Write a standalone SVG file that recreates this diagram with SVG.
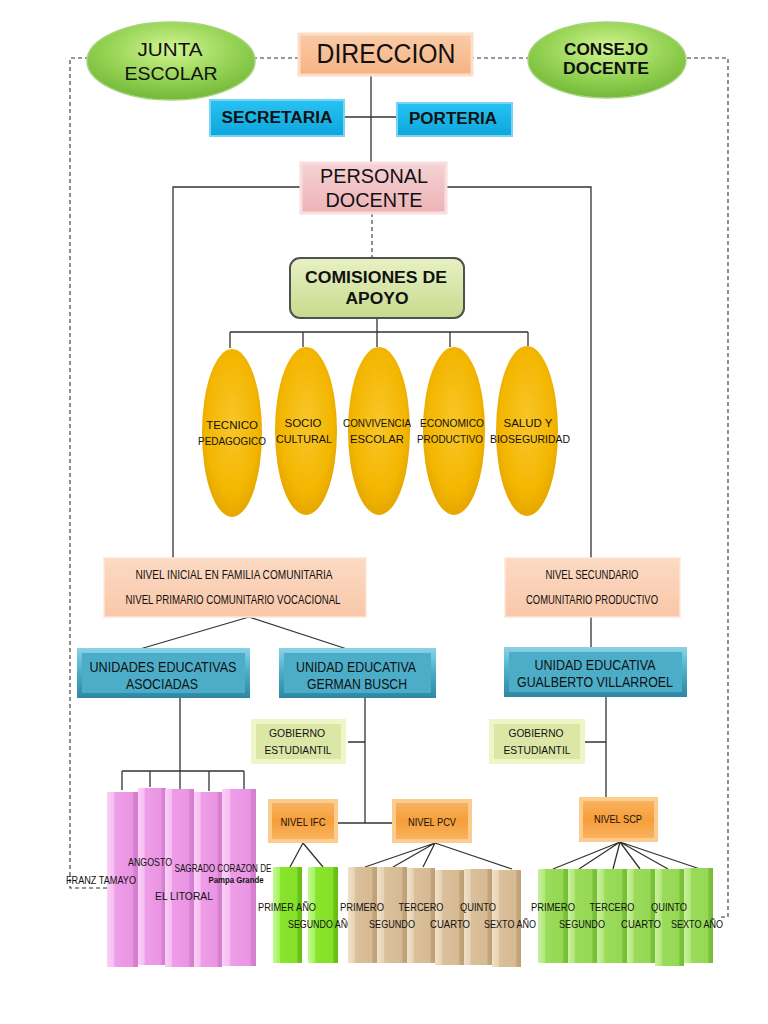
<svg xmlns="http://www.w3.org/2000/svg" width="768" height="1024" viewBox="0 0 768 1024">
<defs>
<style>
text{font-family:"Liberation Sans",Arial,sans-serif;fill:#111;text-anchor:middle}
.b{font-weight:bold}
.ln{stroke:#333;stroke-width:1.3;fill:none}
.dash{stroke:#333;stroke-width:1.1;fill:none;stroke-dasharray:4 3}
.nar{font-size:13px}
.col{font-size:11.5px}
.el{font-size:11.5px}
</style>
<radialGradient id="gGreenE" cx="0.5" cy="0.35" r="0.65"><stop offset="0" stop-color="#D2F590"/><stop offset="0.6" stop-color="#94D253"/><stop offset="1" stop-color="#74B83A"/></radialGradient>
<radialGradient id="gGold" cx="0.5" cy="0.45" r="0.6"><stop offset="0" stop-color="#F9C62A"/><stop offset="0.7" stop-color="#F3B600"/><stop offset="1" stop-color="#E0A000"/></radialGradient>
<linearGradient id="gDir" x1="0" y1="0" x2="0" y2="1"><stop offset="0" stop-color="#FACBA6"/><stop offset="1" stop-color="#F6B283"/></linearGradient>
<linearGradient id="gPers" x1="0" y1="0" x2="0" y2="1"><stop offset="0" stop-color="#F6D2D4"/><stop offset="1" stop-color="#EDB3B7"/></linearGradient>
<linearGradient id="gCom" x1="0" y1="0" x2="0" y2="1"><stop offset="0" stop-color="#E8F1C4"/><stop offset="1" stop-color="#C7DA8C"/></linearGradient>
<linearGradient id="gCyan" x1="0" y1="0" x2="0" y2="1"><stop offset="0" stop-color="#25C3F3"/><stop offset="1" stop-color="#0EA6DC"/></linearGradient>
<linearGradient id="gPeach" x1="0" y1="0" x2="0" y2="1"><stop offset="0" stop-color="#FCDAC4"/><stop offset="1" stop-color="#F9C7A8"/></linearGradient>
<linearGradient id="gTealO" x1="0" y1="0" x2="0" y2="1"><stop offset="0" stop-color="#8AD3E6"/><stop offset="0.5" stop-color="#4AACC7"/><stop offset="1" stop-color="#2E87A2"/></linearGradient>
<linearGradient id="gOrange" x1="0" y1="0" x2="0" y2="1"><stop offset="0" stop-color="#F9B25E"/><stop offset="0.5" stop-color="#F79E3A"/><stop offset="1" stop-color="#F9B25E"/></linearGradient>
<linearGradient id="gPink" x1="0" y1="0" x2="1" y2="0"><stop offset="0" stop-color="#FAD0F6"/><stop offset="0.22" stop-color="#F7BDF2"/><stop offset="0.26" stop-color="#EE9DE7"/><stop offset="0.82" stop-color="#EA95E3"/><stop offset="0.86" stop-color="#D981D2"/><stop offset="1" stop-color="#D57CCE"/></linearGradient>
<linearGradient id="gTan" x1="0" y1="0" x2="1" y2="0"><stop offset="0" stop-color="#F0E1CA"/><stop offset="0.22" stop-color="#E7D3B5"/><stop offset="0.26" stop-color="#DAC09B"/><stop offset="0.82" stop-color="#D6BA93"/><stop offset="0.86" stop-color="#C4A47A"/><stop offset="1" stop-color="#BF9F74"/></linearGradient>
<linearGradient id="gLime" x1="0" y1="0" x2="1" y2="0"><stop offset="0" stop-color="#C2FA8C"/><stop offset="0.22" stop-color="#A8F266"/><stop offset="0.26" stop-color="#88E52C"/><stop offset="0.82" stop-color="#84E028"/><stop offset="0.86" stop-color="#6CC414"/><stop offset="1" stop-color="#66BC12"/></linearGradient>
<linearGradient id="gGrn" x1="0" y1="0" x2="1" y2="0"><stop offset="0" stop-color="#C9F19E"/><stop offset="0.22" stop-color="#B2E77C"/><stop offset="0.26" stop-color="#9ADC5A"/><stop offset="0.82" stop-color="#95D854"/><stop offset="0.86" stop-color="#7CC33C"/><stop offset="1" stop-color="#76BD36"/></linearGradient>
</defs>
<rect width="768" height="1024" fill="#fff"/>

<g id="connectors">
<path class="dash" d="M107,888 H70 V58 H728 V917 H721"/>
<path class="ln" d="M371,76 V163 M344,117 H396"/>
<path class="ln" d="M300,187 H173 V558 M446,187 H591 V558"/>
<path class="dash" d="M372,213 V257"/>
<path class="ln" d="M377,318 V332 M230,332 H528 M230,332 V348 M303,332 V347 M377,332 V347 M450,332 V347 M528,332 V346"/>
<path class="ln" d="M249,617 L140,649 M249,617 L347,649 M591,617 V647"/>
<path class="ln" d="M180,698 V771 M122,771 H244 M122,771 V790 M150,771 V787 M180,771 V789 M209,771 V791 M244,771 V789"/>
<path class="ln" d="M365,698 V823 M337,823 H392 M348,742 H365"/>
<path class="ln" d="M303,843 L290,867 M303,843 L323,867"/>
<path class="ln" d="M435,843 L365,867 M435,843 L393,867 M435,843 L423,867 M435,843 L512,869"/>
<path class="ln" d="M606,697 V797 M585,742 H606"/>
<path class="ln" d="M620,842 L553,869 M620,842 L579,869 M620,842 L613,869 M620,842 L640,869 M620,842 L668,869 M620,842 L700,869"/>
</g>

<g id="junta">
<ellipse cx="171" cy="61" rx="84" ry="39" fill="url(#gGreenE)" stroke="#A6D47C" stroke-width="1.5"/>
<text x="170" y="56" font-size="18" textLength="65" lengthAdjust="spacingAndGlyphs">JUNTA</text>
<text x="171" y="80" font-size="18" textLength="93" lengthAdjust="spacingAndGlyphs">ESCOLAR</text>
</g>
<g id="consejo">
<ellipse cx="607" cy="60" rx="79" ry="38" fill="url(#gGreenE)" stroke="#A6D47C" stroke-width="1.5"/>
<text x="606" y="55" font-size="17" class="b" textLength="84" lengthAdjust="spacingAndGlyphs">CONSEJO</text>
<text x="606" y="74" font-size="17" class="b" textLength="86" lengthAdjust="spacingAndGlyphs">DOCENTE</text>
</g>
<g id="direccion">
<rect x="299" y="34" width="173" height="41" fill="url(#gDir)" stroke="#FCDDC6" stroke-width="3"/>
<text x="386" y="63" font-size="27" textLength="139" lengthAdjust="spacingAndGlyphs">DIRECCION</text>
</g>
<g id="secretaria">
<rect x="210" y="100" width="134" height="36" fill="url(#gCyan)" stroke="#78D4F2" stroke-width="2"/>
<text x="277" y="123" font-size="16" class="b" textLength="111" lengthAdjust="spacingAndGlyphs">SECRETARIA</text>
</g>
<g id="porteria">
<rect x="397" y="103" width="115" height="33" fill="url(#gCyan)" stroke="#78D4F2" stroke-width="2"/>
<text x="453" y="124" font-size="16" class="b" textLength="88" lengthAdjust="spacingAndGlyphs">PORTERIA</text>
</g>
<g id="personal">
<rect x="301" y="163" width="145" height="50" fill="url(#gPers)" stroke="#F9DEDF" stroke-width="3"/>
<text x="374" y="183" font-size="20" textLength="108" lengthAdjust="spacingAndGlyphs">PERSONAL</text>
<text x="374" y="207" font-size="20" textLength="97" lengthAdjust="spacingAndGlyphs">DOCENTE</text>
</g>
<g id="comisiones">
<rect x="290" y="258" width="174" height="60" rx="10" fill="url(#gCom)" stroke="#505050" stroke-width="2"/>
<text x="376" y="283" font-size="16" class="b" textLength="142" lengthAdjust="spacingAndGlyphs">COMISIONES DE</text>
<text x="377" y="304" font-size="16" class="b" textLength="63" lengthAdjust="spacingAndGlyphs">APOYO</text>
</g>

<g id="comision-tecnico">
<ellipse cx="232" cy="433" rx="30" ry="84" fill="url(#gGold)"/>
<text x="232" y="429" class="el">TECNICO</text>
<text x="232" y="445" class="el" textLength="68" lengthAdjust="spacingAndGlyphs">PEDAGOGICO</text>
</g>
<g id="comision-socio">
<ellipse cx="306" cy="431" rx="31" ry="84" fill="url(#gGold)"/>
<text x="303" y="427" class="el">SOCIO</text>
<text x="304" y="443" class="el" textLength="56" lengthAdjust="spacingAndGlyphs">CULTURAL</text>
</g>
<g id="comision-convivencia">
<ellipse cx="379" cy="431" rx="31" ry="84" fill="url(#gGold)"/>
<text x="377" y="427" class="el" textLength="68" lengthAdjust="spacingAndGlyphs">CONVIVENCIA</text>
<text x="377" y="443" class="el" textLength="54" lengthAdjust="spacingAndGlyphs">ESCOLAR</text>
</g>
<g id="comision-economico">
<ellipse cx="454" cy="431" rx="31" ry="84" fill="url(#gGold)"/>
<text x="452" y="427" class="el" textLength="64" lengthAdjust="spacingAndGlyphs">ECONOMICO</text>
<text x="450" y="443" class="el" textLength="66" lengthAdjust="spacingAndGlyphs">PRODUCTIVO</text>
</g>
<g id="comision-salud">
<ellipse cx="527" cy="431" rx="31" ry="85" fill="url(#gGold)"/>
<text x="528" y="427" class="el">SALUD Y</text>
<text x="530" y="443" class="el" textLength="80" lengthAdjust="spacingAndGlyphs">BIOSEGURIDAD</text>
</g>

<g id="nivel-inicial">
<rect x="104" y="558" width="262" height="59" fill="url(#gPeach)" stroke="#FDE6D7" stroke-width="1.5"/>
<text x="234" y="579" class="nar" textLength="197" lengthAdjust="spacingAndGlyphs">NIVEL INICIAL EN FAMILIA COMUNITARIA</text>
<text x="233" y="604" class="nar" textLength="215" lengthAdjust="spacingAndGlyphs">NIVEL PRIMARIO COMUNITARIO VOCACIONAL</text>
</g>
<g id="nivel-secundario">
<rect x="505" y="558" width="175" height="59" fill="url(#gPeach)" stroke="#FDE6D7" stroke-width="1.5"/>
<text x="592" y="579" class="nar" textLength="93" lengthAdjust="spacingAndGlyphs">NIVEL SECUNDARIO</text>
<text x="592" y="604" class="nar" textLength="132" lengthAdjust="spacingAndGlyphs">COMUNITARIO PRODUCTIVO</text>
</g>

<g id="ue-asociadas">
<rect x="77" y="648" width="173" height="50" fill="url(#gTealO)"/>
<rect x="82" y="653" width="163" height="40" fill="#4BADC8"/>
<text x="163" y="672" font-size="14.5" textLength="147" lengthAdjust="spacingAndGlyphs">UNIDADES EDUCATIVAS</text>
<text x="162" y="689" font-size="14.5" textLength="72" lengthAdjust="spacingAndGlyphs">ASOCIADAS</text>
</g>
<g id="ue-german-busch">
<rect x="279" y="648" width="157" height="50" fill="url(#gTealO)"/>
<rect x="284" y="653" width="147" height="40" fill="#4BADC8"/>
<text x="356" y="672" font-size="14.5" textLength="120" lengthAdjust="spacingAndGlyphs">UNIDAD EDUCATIVA</text>
<text x="357" y="689" font-size="14.5" textLength="100" lengthAdjust="spacingAndGlyphs">GERMAN BUSCH</text>
</g>
<g id="ue-gualberto">
<rect x="504" y="647" width="183" height="50" fill="url(#gTealO)"/>
<rect x="509" y="652" width="173" height="40" fill="#4BADC8"/>
<text x="595" y="670" font-size="14.5" textLength="121" lengthAdjust="spacingAndGlyphs">UNIDAD EDUCATIVA</text>
<text x="595" y="687" font-size="14.5" textLength="156" lengthAdjust="spacingAndGlyphs">GUALBERTO VILLARROEL</text>
</g>

<g id="gobierno-1">
<rect x="251" y="719" width="95" height="45" fill="#EEF5C6"/>
<rect x="256" y="724" width="85" height="35" fill="#DCE7A6"/>
<text x="297" y="737" font-size="10.5" textLength="56" lengthAdjust="spacingAndGlyphs">GOBIERNO</text>
<text x="298" y="754" font-size="10.5" textLength="67" lengthAdjust="spacingAndGlyphs">ESTUDIANTIL</text>
</g>
<g id="gobierno-2">
<rect x="489" y="719" width="96" height="45" fill="#EEF5C6"/>
<rect x="494" y="724" width="86" height="35" fill="#DCE7A6"/>
<text x="536" y="737" font-size="10.5" textLength="55" lengthAdjust="spacingAndGlyphs">GOBIERNO</text>
<text x="537" y="754" font-size="10.5" textLength="67" lengthAdjust="spacingAndGlyphs">ESTUDIANTIL</text>
</g>

<g id="nivel-ifc">
<rect x="268" y="799" width="70" height="44" fill="#FCCB8E"/>
<rect x="272" y="803" width="62" height="36" fill="url(#gOrange)"/>
<text x="303" y="826" font-size="11" textLength="45" lengthAdjust="spacingAndGlyphs">NIVEL IFC</text>
</g>
<g id="nivel-pcv">
<rect x="392" y="799" width="80" height="44" fill="#FCCB8E"/>
<rect x="396" y="803" width="72" height="36" fill="url(#gOrange)"/>
<text x="432" y="826" font-size="11" textLength="48" lengthAdjust="spacingAndGlyphs">NIVEL PCV</text>
</g>
<g id="nivel-scp">
<rect x="579" y="797" width="79" height="45" fill="#FCCB8E"/>
<rect x="583" y="801" width="71" height="37" fill="url(#gOrange)"/>
<text x="618" y="823" font-size="11" textLength="48" lengthAdjust="spacingAndGlyphs">NIVEL SCP</text>
</g>

<g id="unidades-asociadas">
<rect x="107" y="792" width="31" height="175" fill="url(#gPink)"/>
<rect x="138" y="788" width="28" height="177" fill="url(#gPink)"/>
<rect x="165" y="789" width="29" height="178" fill="url(#gPink)"/>
<rect x="194" y="792" width="28" height="175" fill="url(#gPink)"/>
<rect x="222" y="789" width="34" height="177" fill="url(#gPink)"/>
<text x="66" y="884" class="col" style="text-anchor:start" textLength="70" lengthAdjust="spacingAndGlyphs">FRANZ TAMAYO</text>
<text x="128" y="866" font-size="11" style="text-anchor:start" textLength="44" lengthAdjust="spacingAndGlyphs">ANGOSTO</text>
<text x="213" y="900" class="col" style="text-anchor:end" textLength="58" lengthAdjust="spacingAndGlyphs">EL LITORAL</text>
<text x="223" y="872" font-size="10" textLength="97" lengthAdjust="spacingAndGlyphs">SAGRADO CORAZON DE</text>
<text x="236" y="883" font-size="8.5" class="b" textLength="55" lengthAdjust="spacingAndGlyphs">Pampa Grande</text>
</g>

<g id="cursos-ifc">
<rect x="273" y="867" width="29" height="96" fill="url(#gLime)"/>
<rect x="308" y="867" width="30" height="96" fill="url(#gLime)"/>
<text x="287" y="911" class="col" textLength="58" lengthAdjust="spacingAndGlyphs">PRIMER AÑO</text>
<text x="321" y="928" class="col" textLength="66" lengthAdjust="spacingAndGlyphs">SEGUNDO AÑO</text>
</g>

<g id="cursos-pcv">
<rect x="348" y="867" width="29" height="96" fill="url(#gTan)"/>
<rect x="377" y="867" width="30" height="96" fill="url(#gTan)"/>
<rect x="407" y="868" width="28" height="95" fill="url(#gTan)"/>
<rect x="435" y="870" width="29" height="95" fill="url(#gTan)"/>
<rect x="464" y="869" width="28" height="96" fill="url(#gTan)"/>
<rect x="492" y="870" width="29" height="97" fill="url(#gTan)"/>
<text x="362" y="911" class="col" textLength="44" lengthAdjust="spacingAndGlyphs">PRIMERO</text>
<text x="392" y="928" class="col" textLength="46" lengthAdjust="spacingAndGlyphs">SEGUNDO</text>
<text x="421" y="911" class="col" textLength="45" lengthAdjust="spacingAndGlyphs">TERCERO</text>
<text x="450" y="928" class="col" textLength="40" lengthAdjust="spacingAndGlyphs">CUARTO</text>
<text x="478" y="911" class="col" textLength="36" lengthAdjust="spacingAndGlyphs">QUINTO</text>
<text x="510" y="928" class="col" textLength="52" lengthAdjust="spacingAndGlyphs">SEXTO AÑO</text>
</g>

<g id="cursos-scp">
<rect x="538" y="869" width="30" height="94" fill="url(#gGrn)"/>
<rect x="568" y="869" width="29" height="94" fill="url(#gGrn)"/>
<rect x="597" y="869" width="30" height="94" fill="url(#gGrn)"/>
<rect x="627" y="869" width="28" height="94" fill="url(#gGrn)"/>
<rect x="655" y="869" width="29" height="97" fill="url(#gGrn)"/>
<rect x="684" y="868" width="29" height="95" fill="url(#gGrn)"/>
<text x="553" y="911" class="col" textLength="44" lengthAdjust="spacingAndGlyphs">PRIMERO</text>
<text x="582" y="928" class="col" textLength="46" lengthAdjust="spacingAndGlyphs">SEGUNDO</text>
<text x="612" y="911" class="col" textLength="45" lengthAdjust="spacingAndGlyphs">TERCERO</text>
<text x="641" y="928" class="col" textLength="40" lengthAdjust="spacingAndGlyphs">CUARTO</text>
<text x="669" y="911" class="col" textLength="36" lengthAdjust="spacingAndGlyphs">QUINTO</text>
<text x="697" y="928" class="col" textLength="52" lengthAdjust="spacingAndGlyphs">SEXTO AÑO</text>
</g>
</svg>
